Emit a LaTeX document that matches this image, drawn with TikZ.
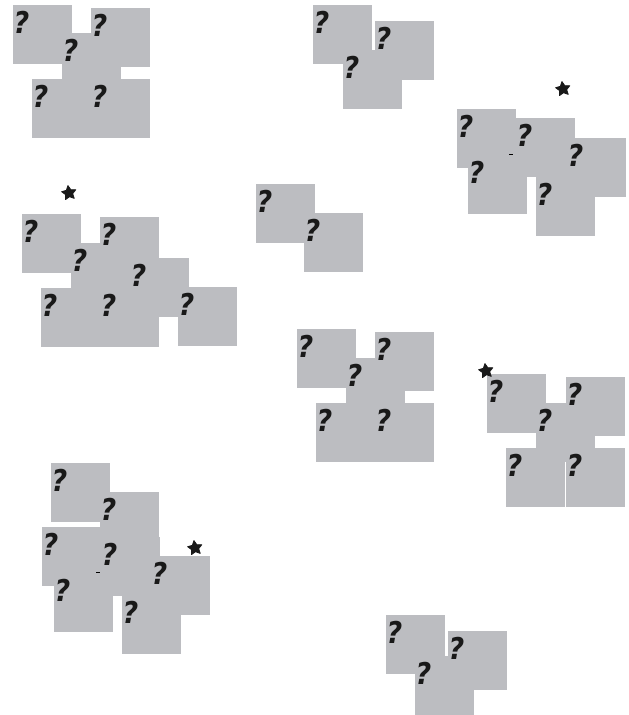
\documentclass[tikz,border=0pt]{standalone}
\usepackage{fontspec}
\newfontfamily\qfont{DejaVu Sans}
\usetikzlibrary{shapes.geometric}
\definecolor{gr}{RGB}{188,189,193}
\tikzset{
  sq/.style={fill=gr, draw=none, minimum width=59pt, minimum height=58.5pt, anchor=north west, inner sep=0pt, outer sep=0pt},
  qm/.style={anchor=base west, inner sep=0pt, font=\qfont\bfseries\itshape\fontsize{30}{30}\selectfont, text=black!90, xscale=0.9},
  starmark/.style={star, star points=5, star point ratio=2.0, fill=black!90, draw=black!90, line width=0.8pt, line join=round, minimum size=15pt, inner sep=0pt},
  dashmark/.style={line width=0.9pt, black}
}
\newcommand\Sq[3]{\node[sq] (#1) at (#2,#3) {};}
\newcommand\Qm[1]{\node[qm] (#1q) at ([xshift=0.5pt,yshift=-28pt]#1.north west) {?};}
\begin{document}
\begin{tikzpicture}[x=1pt,y=-1pt]
\useasboundingbox (0,0) rectangle (629,715);
% cluster 1
\Sq{aA}{13}{5} \Sq{aB}{91}{8} \Sq{aC}{62}{33} \Sq{aD}{32}{79} \Sq{aE}{91}{79}
% cluster 2
\Sq{bA}{313}{5} \Sq{bB}{375}{21} \Sq{bC}{343}{50}
% cluster 3
\Sq{cA}{457}{109} \Sq{cB}{516}{118} \Sq{cC}{567}{138} \Sq{cD}{468}{155} \Sq{cE}{536}{177}
% cluster 4
\Sq{dA}{22}{214} \Sq{dB}{100}{217} \Sq{dC}{71}{243} \Sq{dD}{130}{258} \Sq{dE}{41}{288} \Sq{dF}{100}{288} \Sq{dG}{178}{287}
% cluster 5
\Sq{eA}{256}{184} \Sq{eB}{304}{213}
% cluster 6
\Sq{fA}{297}{329} \Sq{fB}{375}{332} \Sq{fC}{346}{358} \Sq{fD}{316}{403} \Sq{fE}{375}{403}
% cluster 7
\Sq{gA}{487}{374} \Sq{gB}{566}{377} \Sq{gC}{536}{403}
\node[sq, minimum width=59pt] (gD) at (506,448) {};
\node[sq, minimum width=59pt] (gE) at (566,448) {};
% cluster 8
\Sq{hA}{51}{463} \Sq{hB}{100}{492} \Sq{hC}{42}{527} \Sq{hD}{101}{537} \Sq{hE}{151}{556} \Sq{hF}{54}{573} \Sq{hG}{122}{595}
% cluster 9
\Sq{iA}{386}{615} \Sq{iB}{448}{631} \Sq{iC}{415}{656}
% question marks
\foreach \n in {aA,aB,aC,aD,aE,bA,bB,bC,cA,cB,cC,cD,cE,dA,dB,dC,dD,dE,dF,dG,eA,eB,fA,fB,fC,fD,fE,gA,gB,gC,gD,gE,hA,hB,hC,hD,hE,hF,hG,iA,iB,iC}{\Qm{\n}}
% stars
\node[starmark, rotate=8] (s1) at (563,89) {};
\node[starmark, rotate=8] (s2) at (69,193) {};
\node[starmark, rotate=8] (s3) at (486,371) {};
\node[starmark, rotate=8] (s4) at (195,548) {};
% small dashes
\draw[dashmark] (509,154) -- (513,154);
\draw[dashmark] (96,572) -- (100,572);
\end{tikzpicture}
\end{document}
